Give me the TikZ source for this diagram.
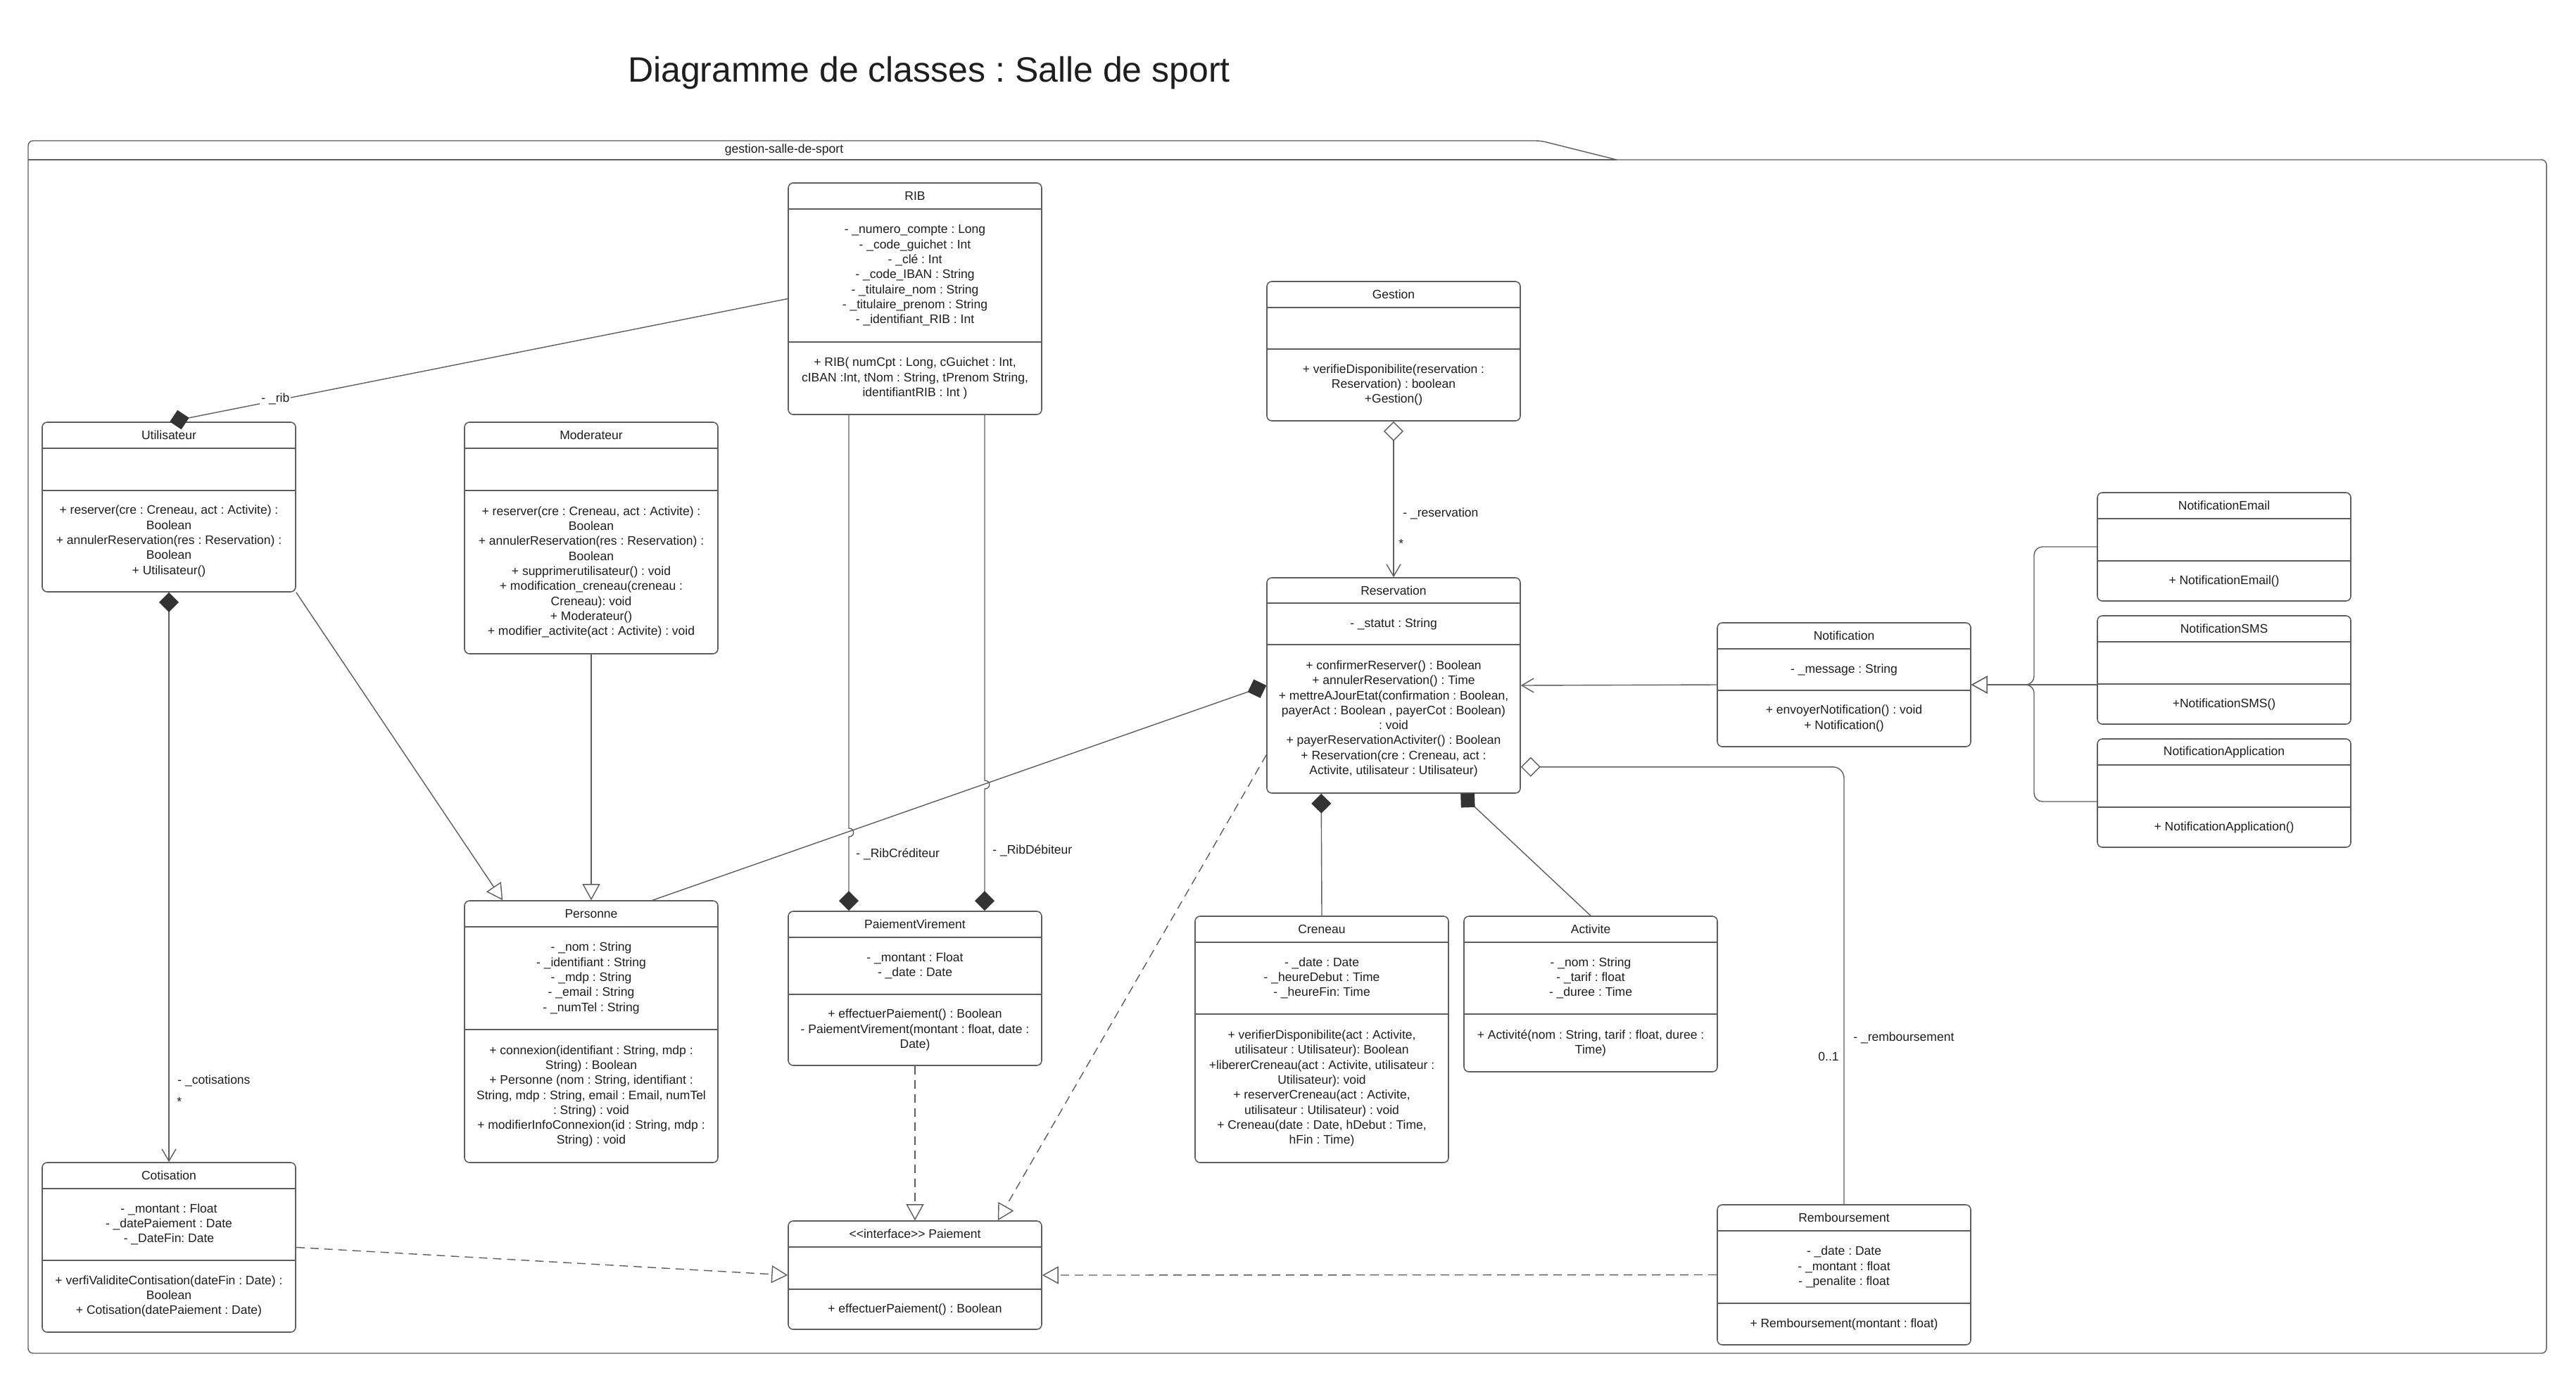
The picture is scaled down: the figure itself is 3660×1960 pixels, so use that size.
\documentclass[tikz,border=0pt]{standalone}
\usepackage{fontspec}
\setmainfont{Liberation Sans}[Ligatures=TeXOff]
\frenchspacing
\usetikzlibrary{arrows.meta,fit,calc}
\definecolor{ln}{HTML}{5E5E5E}
\definecolor{tx}{HTML}{1E1E1E}
\definecolor{dk}{HTML}{333333}
\tikzset{
  classbox/.style={draw=ln, line width=0.8pt, rounded corners=3.5pt, inner sep=0pt, fill=white},
  sepline/.style={draw=ln, line width=0.8pt},
  txt/.style={font=\fontsize{8.75}{10.65}\selectfont, align=center, inner sep=0pt, text=tx},
  lbl/.style={txt, fill=white, inner sep=1pt},
  conn/.style={draw=ln, line width=0.7pt},
  dconn/.style={conn, dash pattern=on 6pt off 4pt},
  UMLgen/.tip={Triangle[fill=white, length=11.5pt, width=12.5pt, line width=0.7pt]},
  UMLnav/.tip={Straight Barb[length=8.5pt, width=10pt, line width=0.7pt]},
  UMLcomp/.tip={Diamond[length=14pt, width=14pt, color=dk]},
  UMLagg/.tip={Diamond[fill=white, length=14pt, width=14pt, line width=0.7pt]},
}
% name, x1, y1, x2, y2, yheader, ydivider, title
\newcommand{\umlclass}[8]{%
  \node[classbox, fit={(#2,#3) (#4,#5)}] (#1) {};
  \draw[sepline] (#2,#6) -- (#4,#6);
  \draw[sepline] (#2,#7) -- (#4,#7);
  \node[txt] (#1-t) at ({(#2+#4)/2},{(#3+#6)/2}) {#8};
  \coordinate (#1-a) at ({(#2+#4)/2},{(#6+#7)/2});
  \coordinate (#1-m) at ({(#2+#4)/2},{(#7+#5)/2});
}
\newcommand{\umlattr}[2]{\node[txt] (#1-at) at (#1-a) {#2};}
\newcommand{\umlmeth}[2]{\node[txt] (#1-mt) at (#1-m) {#2};}
\begin{document}
\begin{tikzpicture}[x=0.5pt, y=-0.5pt]
\useasboundingbox[fill=white] (0,0) rectangle (3660,1960);

% title
\node[font=\fontsize{25}{30}\selectfont, text=tx, inner sep=0pt] (title) at (1320,104) {Diagramme de classes : Salle de sport};

% package frame
\draw[ln, line width=0.7pt, rounded corners=3.5pt] (40,1923) -- (40,200) -- (2189,200) [sharp corners] -- (2297,227) [rounded corners=3.5pt] -- (3618,227) -- (3618,1923) -- cycle;
\draw[ln, line width=0.7pt] (40,227) -- (2297,227);
\node[txt] (pkg) at (1114,213) {gestion-salle-de-sport};

% classes
\umlclass{RIB}{1120}{260}{1480}{589}{297}{486}{RIB}
\umlattr{RIB}{- \_numero\_compte : Long\\- \_code\_guichet : Int\\- \_clé : Int\\- \_code\_IBAN : String\\- \_titulaire\_nom : String\\- \_titulaire\_prenom : String\\- \_identifiant\_RIB : Int}
\umlmeth{RIB}{+ RIB( numCpt : Long, cGuichet : Int,\\cIBAN :Int, tNom : String, tPrenom String,\\identifiantRIB : Int )}

\umlclass{Utilisateur}{60}{600}{420}{841}{637}{697}{Utilisateur}
\umlmeth{Utilisateur}{+ reserver(cre : Creneau, act : Activite) :\\Boolean\\+ annulerReservation(res : Reservation) :\\Boolean\\+ Utilisateur()}

\umlclass{Moderateur}{660}{600}{1020}{929}{637}{697}{Moderateur}
\umlmeth{Moderateur}{+ reserver(cre : Creneau, act : Activite) :\\Boolean\\+ annulerReservation(res : Reservation) :\\Boolean\\+ supprimerutilisateur() : void\\+ modification\_creneau(creneau :\\Creneau): void\\+ Moderateur()\\+ modifier\_activite(act : Activite) : void}

\umlclass{Gestion}{1800}{400}{2160}{598}{437}{496}{Gestion}
\umlmeth{Gestion}{+ verifieDisponibilite(reservation :\\Reservation) : boolean\\+Gestion()}

\umlclass{Reservation}{1800}{821}{2160}{1127}{857}{916}{Reservation}
\umlattr{Reservation}{- \_statut : String}
\umlmeth{Reservation}{+ confirmerReserver() : Boolean\\+ annulerReservation() : Time\\+ mettreAJourEtat(confirmation : Boolean,\\payerAct : Boolean , payerCot : Boolean)\\: void\\+ payerReservationActiviter() : Boolean\\+ Reservation(cre : Creneau, act :\\Activite, utilisateur : Utilisateur)}

\umlclass{Notification}{2440}{885}{2800}{1061}{922}{981}{Notification}
\umlattr{Notification}{- \_message : String}
\umlmeth{Notification}{+ envoyerNotification() : void\\+ Notification()}

\umlclass{NotificationEmail}{2980}{700}{3340}{854}{737}{797}{NotificationEmail}
\umlmeth{NotificationEmail}{+ NotificationEmail()}

\umlclass{NotificationSMS}{2980}{875}{3340}{1029}{912}{972}{NotificationSMS}
\umlmeth{NotificationSMS}{+NotificationSMS()}

\umlclass{NotificationApplication}{2980}{1050}{3340}{1204}{1087}{1147}{NotificationApplication}
\umlmeth{NotificationApplication}{+ NotificationApplication()}

\umlclass{Personne}{660}{1280}{1020}{1652}{1317}{1463}{Personne}
\umlattr{Personne}{- \_nom : String\\- \_identifiant : String\\- \_mdp : String\\- \_email : String\\- \_numTel : String}
\umlmeth{Personne}{+ connexion(identifiant : String, mdp :\\String) : Boolean\\+ Personne (nom : String, identifiant :\\String, mdp : String, email : Email, numTel\\: String) : void\\+ modifierInfoConnexion(id : String, mdp :\\String) : void}

\umlclass{PaiementVirement}{1120}{1295}{1480}{1514}{1332}{1413}{PaiementVirement}
\umlattr{PaiementVirement}{- \_montant : Float\\- \_date : Date}
\umlmeth{PaiementVirement}{+ effectuerPaiement() : Boolean\\- PaiementVirement(montant : float, date :\\Date)}

\umlclass{Creneau}{1698}{1302}{2058}{1652}{1339}{1441}{Creneau}
\umlattr{Creneau}{- \_date : Date\\- \_heureDebut : Time\\- \_heureFin: Time}
\umlmeth{Creneau}{+ verifierDisponibilite(act : Activite,\\utilisateur : Utilisateur): Boolean\\+libererCreneau(act : Activite, utilisateur :\\Utilisateur): void\\+ reserverCreneau(act : Activite,\\utilisateur : Utilisateur) : void\\+ Creneau(date : Date, hDebut : Time,\\hFin : Time)}

\umlclass{Activite}{2080}{1302}{2440}{1523}{1339}{1441}{Activite}
\umlattr{Activite}{- \_nom : String\\- \_tarif : float\\- \_duree : Time}
\umlmeth{Activite}{+ Activité(nom : String, tarif : float, duree :\\Time)}

\umlclass{Cotisation}{60}{1652}{420}{1893}{1689}{1791}{Cotisation}
\umlattr{Cotisation}{- \_montant : Float\\- \_datePaiement : Date\\- \_DateFin: Date}
\umlmeth{Cotisation}{+ verfiValiditeContisation(dateFin : Date) :\\Boolean\\+ Cotisation(datePaiement : Date)}

\umlclass{Paiement}{1120}{1735}{1480}{1889}{1772}{1832}{<<interface>> Paiement}
\umlmeth{Paiement}{+ effectuerPaiement() : Boolean}

\umlclass{Remboursement}{2440}{1712}{2800}{1911}{1749}{1852}{Remboursement}
\umlattr{Remboursement}{- \_date : Date\\- \_montant : float\\- \_penalite : float}
\umlmeth{Remboursement}{+ Remboursement(montant : float)}

% helper coordinates
\coordinate (jA) at (1206,1183);
\coordinate (jB) at (1399,1115);
\coordinate (jN) at (2890,0);

% connectors
\draw[conn, UMLcomp-] ($(Utilisateur.north west)+(182,0)$) -- (RIB.west);
\node[lbl, anchor=west] (lrib) at (369,567) {- \_rib};

\draw[conn, UMLcomp-UMLnav] (Utilisateur.south) -- (Cotisation.north);
\node[txt, anchor=west] (lcot) at (252,1536) {- \_cotisations};
\node[txt, anchor=west] (lcotm) at (251,1565) {*};

\draw[conn, -UMLgen] (Utilisateur.south east) -- ($(Personne.north west)+(55,0)$);
\draw[conn, -UMLgen] (Moderateur.south) -- (Personne.north);

\draw[conn, -UMLcomp] ($(Personne.north west)+(268,0)$) -- (Reservation.west);

\draw[conn, -UMLcomp] (RIB.south -| jA) -- ($(jA)+(0,-6)$) .. controls ($(jA)+(9,-6)$) and ($(jA)+(9,6)$) .. ($(jA)+(0,6)$) -- (PaiementVirement.north -| jA);
\draw[conn, -UMLcomp] (RIB.south -| jB) -- ($(jB)+(0,-6)$) .. controls ($(jB)+(9,-6)$) and ($(jB)+(9,6)$) .. ($(jB)+(0,6)$) -- (PaiementVirement.north -| jB);
\node[txt, anchor=west] (lcred) at (1216,1214) {- \_RibCréditeur};
\node[txt, anchor=west] (ldeb) at (1410,1209) {- \_RibDébiteur};

\draw[dconn, -UMLgen] (PaiementVirement.south) -- (Paiement.north);
\draw[dconn, -UMLgen] ($(Reservation.south west)+(0,-55)$) -- ($(Paiement.north east)+(-63,0)$);
\draw[dconn, -UMLgen] (Cotisation.east) -- (Paiement.west);
\draw[dconn, -UMLgen] (Remboursement.west) -- (Paiement.east);

\draw[conn, UMLagg-UMLnav] (Gestion.south) -- (Reservation.north);
\node[txt, anchor=west] (lres) at (1993,730) {- \_reservation};
\node[txt, anchor=west] (lresm) at (1987,772) {*};

\draw[conn, UMLcomp-] ($(Reservation.south west)+(78,0)$) -- (Creneau.north);
\draw[conn, UMLcomp-] ($(Reservation.south west)+(276,0)$) -- (Activite.north);

\draw[conn, -UMLnav] (Notification.west) -- (Reservation.east);

\draw[conn, rounded corners=6pt, -UMLgen] (NotificationEmail.west) -- (jN |- NotificationEmail.west) -- (jN |- Notification.east) -- (Notification.east);
\draw[conn, -UMLgen] (Notification.east -| NotificationSMS.west) -- (Notification.east);
\draw[conn, rounded corners=6pt, -UMLgen] ($(NotificationApplication.west)+(0,12)$) -- ($(jN |- NotificationApplication.west)+(0,12)$) -- (jN |- Notification.east) -- (Notification.east);

\draw[conn, rounded corners=8pt, UMLagg-] ($(Reservation.south east)+(0,-38)$) -| (Remboursement.north);
\node[txt, anchor=west] (lremb) at (2633,1475) {- \_remboursement};
\node[txt, anchor=east] (lrembm) at (2613,1501) {0..1};
\end{tikzpicture}
\end{document}
